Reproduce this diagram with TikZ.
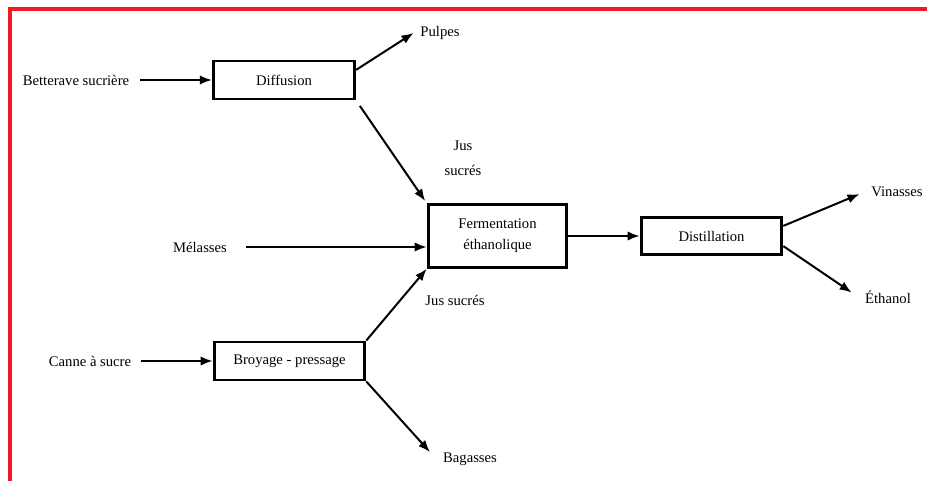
\documentclass[tikz,border=0pt]{standalone}
\usepackage{fontspec}
\setmainfont{Liberation Serif}
\usetikzlibrary{arrows.meta}
\definecolor{framered}{RGB}{237,28,36}

\begin{document}
\begin{tikzpicture}
                    [
                        x=0.75pt, y=-0.75pt,
                        font=\fontsize{11}{13}\selectfont,
                        stage/.style = {draw, shape=rectangle, line width=2.2pt, inner sep=0pt},
                        label/.style = {inner sep=5pt},
                        flow/.style = {-{Latex[length=9pt,width=7pt]}, line width=1.5pt},
                    ]

                    \useasboundingbox (0,0) rectangle (927,481);
                    \draw [framered, line width=2.3pt] (927,9) -- (10,9) -- (10,481);

                    \node[stage, minimum width=106pt, minimum height=28.5pt] (diff) at (284,80)     {Diffusion};
                    \node[stage, minimum width=104pt, minimum height=47pt, align=center, font=\fontsize{11}{15.75}\selectfont] (ferm) at (497.5,236)     {Fermentation\\éthanolique};
                    \node[stage, minimum width=105.5pt, minimum height=28pt] (dist) at (711.5,236)     {Distillation};
                    \node[stage, minimum width=113pt, minimum height=28.5pt] (broy) at (289.5,361)     {Broyage - pressage};

                    \node[label] (bett) at (76,80)     {Betterave sucrière};
                    \node[label] (pulpes) at (440,33)     {Pulpes};
                    \node[label, align=center, font=\fontsize{11}{18.75}\selectfont] (jus1) at (463,158)     {Jus\\sucrés};
                    \node[label] (melasses) at (200,247)     {Mélasses};
                    \node[label] (jus2) at (455,300)     {Jus sucrés};
                    \node[label] (canne) at (90,361)     {Canne à sucre};
                    \node[label] (bagasses) at (470,459)     {Bagasses};
                    \node[label] (vinasses) at (897,192)     {Vinasses};
                    \node[label] (ethanol) at (888,297)     {Éthanol};

                    \draw [flow, shorten <=3pt] (bett.east) -- (diff.west);
                    \draw [flow] (diff.8) -- (pulpes.west);
                    \draw [flow, shorten <=5pt, shorten >=2pt] (diff.south east) -- (ferm.north west);
                    \draw [flow, shorten <=9pt] (melasses.east) -- (melasses.east -| ferm.west);
                    \draw [flow, shorten <=2pt] (canne.east) -- (broy.west);
                    \draw [flow] (broy.north east) -- (ferm.south west);
                    \draw [flow, shorten >=7pt] (broy.south east) -- (bagasses.west);
                    \draw [flow] (ferm.east) -- (dist.west);
                    \draw [flow, shorten >=4pt] (dist.8) -- (vinasses.west);
                    \draw [flow, shorten >=6pt] (dist.-8) -- (ethanol.west);
                \end{tikzpicture}
\end{document}
